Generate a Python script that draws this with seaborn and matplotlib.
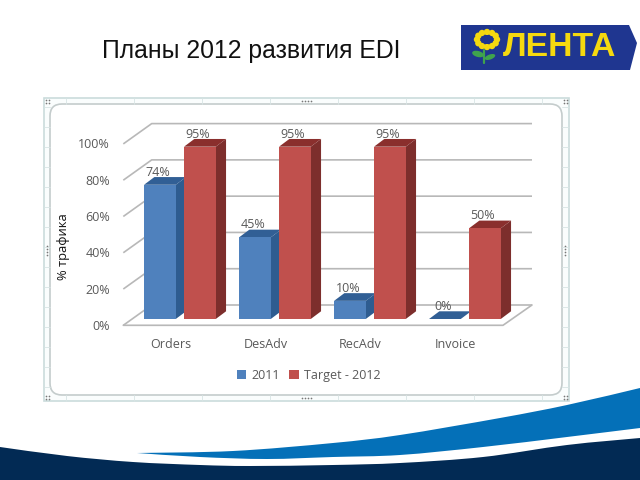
import numpy as np
import pandas as pd
import seaborn as sns
import matplotlib.pyplot as plt
from matplotlib.patches import Polygon, PathPatch, FancyBboxPatch, Circle, Ellipse, Rectangle
from matplotlib.path import Path

categories = ['Orders', 'DesAdv', 'RecAdv', 'Invoice']
series_names = ['2011', 'Target - 2012']
values_2011 = [74, 45, 10, 0]
values_2012 = [95, 95, 95, 50]
y_ticks = [0, 20, 40, 60, 80, 100]

title_text = 'Планы 2012 развития EDI'
y_title = '% трафика'

sns.set_theme(style='white')
plt.rcParams['font.family'] = ['Open Sans', 'DejaVu Sans']

df = pd.DataFrame({
    'cat': categories * 2,
    'series': [series_names[0]] * 4 + [series_names[1]] * 4,
    'val': values_2011 + values_2012,
})

GREY = '#595959'
FS = 9.0
fig = plt.figure(figsize=(6.4, 4.8), dpi=100, facecolor='white')

# background layer in pixel coordinates
bg = fig.add_axes([0, 0, 1, 1])
bg.set_xlim(0, 640)
bg.set_ylim(480, 0)
bg.axis('off')


def smooth(points):
    # catmull-rom style curve through the outline points
    pts = np.array(points, dtype=float)
    verts = [pts[0]]
    codes = [Path.MOVETO]
    for i in range(len(pts) - 1):
        p0 = pts[max(i - 1, 0)]
        p1, p2 = pts[i], pts[i + 1]
        p3 = pts[min(i + 2, len(pts) - 1)]
        verts += [p1 + (p2 - p0) / 6, p2 - (p3 - p1) / 6, p2]
        codes += [Path.CURVE4] * 3
    return verts, codes


# footer waves
navy_top = [(0, 447), (67, 456), (133, 462), (200, 465), (250, 466), (333, 465), (400, 463), (483, 457), (567, 445), (640, 438)]
v, c = smooth(navy_top)
v += [(640, 480), (0, 480), (0, 447)]
c += [Path.LINETO] * 3
bg.add_patch(PathPatch(Path(v, c), fc='#022A54', ec='none'))

blue_top = [(137, 453), (233, 451), (333, 443), (400, 435), (500, 418), (567, 405), (640, 388)]
blue_bot = [(640, 428), (567, 437), (483, 447), (400, 455), (333, 457), (267, 459), (200, 457), (137, 453)]
v1, c1 = smooth(blue_top)
v2, c2 = smooth(blue_bot)
bg.add_patch(PathPatch(Path(v1 + v2, c1 + [Path.LINETO] + c2[1:]), fc='#0470B8', ec='none'))

# title
bg.text(101.5, 58, title_text, family=['Liberation Sans'], fontsize=17.8, color='#111111', ha='left', va='baseline')

# logo
LOGO_BLUE = '#1F3690'
YEL = '#F5D90F'
bg.add_patch(Polygon([(461, 25), (629, 25), (637, 43), (630, 70), (461, 70)], fc=LOGO_BLUE, ec='none'))
bg.text(560, 47.5, 'ЛЕНТА', family=['Liberation Sans'], weight='bold', fontsize=24.3, color=YEL, ha='center', va='center')
for a in np.linspace(0, 2 * np.pi, 12, endpoint=False):
    bg.add_patch(Circle((487 + 10 * np.cos(a), 39.5 + 7.5 * np.sin(a)), 3.2, fc=YEL, ec='none'))
bg.add_patch(Ellipse((487, 39.5), 12, 9, fc=LOGO_BLUE, ec='none'))
bg.plot([484, 484], [50, 63], color='#3FA34D', lw=1.6)
bg.add_patch(Ellipse((478, 54), 12, 6, angle=15, fc='#3FA34D', ec='none'))
bg.add_patch(Ellipse((490, 57), 11, 5, angle=-20, fc='#3FA34D', ec='none'))

# selection frame of the pasted chart
bg.add_patch(Rectangle((44, 98), 525, 303, fc='#FAFDFD', ec='#CBDCDC', lw=1.2))
for x in range(66, 569, 68):
    bg.plot([x, x], [98, 104], color='#D8E4E4', lw=0.6)
    bg.plot([x, x], [395, 401], color='#D8E4E4', lw=0.6)
for y in range(107, 400, 20):
    bg.plot([44, 50], [y, y], color='#D8E4E4', lw=0.6)
    bg.plot([562, 569], [y, y], color='#D8E4E4', lw=0.6)
bg.add_patch(FancyBboxPatch((62, 116), 488, 267, boxstyle='round,pad=12,rounding_size=12',
                            fc='white', ec='#C4CCCC', lw=1.2))
for x0, y0 in [(47, 101), (565, 101), (47, 397), (565, 397)]:
    bg.scatter([x0 - 1.5, x0 + 1.5, x0 - 1.5, x0 + 1.5], [y0 - 1.5, y0 - 1.5, y0 + 1.5, y0 + 1.5],
               s=1.5, color='#777777', lw=0)
bg.scatter([301.5, 304.5, 307.5, 310.5], [101] * 4, s=1.5, color='#777777', lw=0)
bg.scatter([301.5, 304.5, 307.5, 310.5], [398] * 4, s=1.5, color='#777777', lw=0)
for x0 in [47, 565]:
    bg.scatter([x0] * 4, [246, 249, 252, 255], s=1.5, color='#777777', lw=0)

# walls and floor
GRID = '#B8B8B8'
for t in y_ticks:
    yf = 325.3 - t * 1.814
    yb = yf - 20.3
    bg.plot([123.3, 151.7, 532], [yf, yb, yb], color=GRID, lw=1.2, solid_capstyle='butt')
    bg.text(110, yf + 1, f'{t}%', fontsize=FS, color=GREY, ha='right', va='center')
bg.plot([123.3, 503, 532], [325.3, 325.3, 305], color=GRID, lw=1.2)
bg.text(64, 247, y_title, fontsize=9.3, weight='medium', color='#111111', rotation=90, ha='center', va='center')

# bars, front plane lined up with the picture
ax = fig.add_axes([132.4 / 640, (480 - 319) / 480, 380 / 640, 181.4 / 480])
ax.patch.set_alpha(0)
sns.barplot(data=df, x='cat', y='val', hue='series', order=categories, hue_order=series_names,
            palette=['#4F81BD', '#C0504D'], width=0.842, gap=0.2075, linewidth=0, saturation=1, ax=ax)
ax.set_xlim(-0.5, 3.5)
ax.set_ylim(0, 100)
ax.axis('off')

DX = 10.3 / 95
DY = 7.7 / 1.814
side_cols = ['#2E5C90', '#7D2E2C']
top_cols = ['#315F95', '#8A2F2D']
for k, cont in enumerate(ax.containers):
    for rect in cont:
        rect.set_zorder(3 + 2 * k)
        x0, w, h = rect.get_x(), rect.get_width(), rect.get_height()
        x1 = x0 + w
        ax.add_patch(Polygon([(x1, 0), (x1 + DX, DY), (x1 + DX, h + DY), (x1, h)], fc=side_cols[k], ec='none',
                             zorder=2 + 2 * k, clip_on=False))
        ax.add_patch(Polygon([(x0, h), (x0 + DX, h + DY), (x1 + DX, h + DY), (x1, h)], fc=top_cols[k], ec='none',
                             zorder=2 + 2 * k, clip_on=False))
        ax.annotate(f'{h:.0f}%', (x0 + w / 2, h), xytext=(-1.5, 9), textcoords='offset points',
                    fontsize=FS, color=GREY, ha='center', va='center', zorder=10, annotation_clip=False)

for i, name in enumerate(categories):
    ax.annotate(name, (i, 0), xytext=(-6.7, -18.6), textcoords='offset points', fontsize=FS, color=GREY,
                ha='center', va='center', annotation_clip=False)

leg = ax.legend(loc='center', bbox_to_anchor=(308.5 / 640, (480 - 375.5) / 480), bbox_transform=fig.transFigure,
                ncol=2, frameon=False, fontsize=FS, handlelength=0.75, handleheight=0.75, handletextpad=0.4,
                columnspacing=0.8, labelcolor=GREY, borderpad=0, title=None)

fig.savefig('out.png', dpi=100)
